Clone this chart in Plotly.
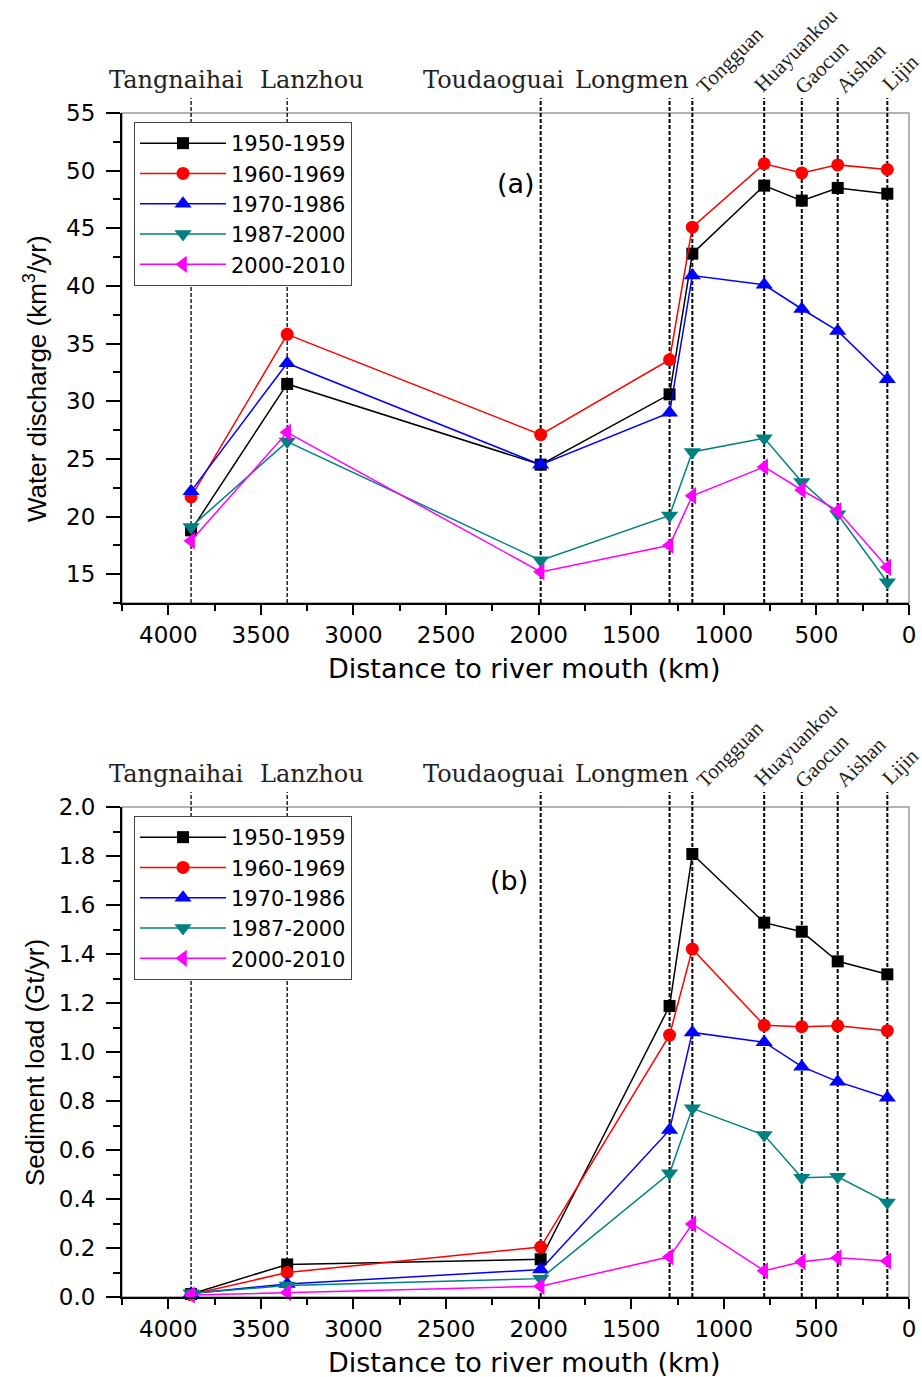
import plotly.graph_objects as go

# ---------------- data ----------------
stations = ["Tangnaihai", "Lanzhou", "Toudaoguai", "Longmen", "Tongguan",
            "Huayuankou", "Gaocun", "Aishan", "Lijin"]
distance_km = [3877, 3358, 1989, 1293, 1170, 782, 579, 385, 117]

periods = ["1950-1959", "1960-1969", "1970-1986", "1987-2000", "2000-2010"]

water_1950_1959 = [18.8, 31.5, 24.5, 30.6, 42.8, 48.7, 47.4, 48.5, 48.0]
water_1960_1969 = [21.7, 35.8, 27.1, 33.6, 45.1, 50.6, 49.8, 50.5, 50.1]
water_1970_1986 = [22.2, 33.3, 24.5, 29.0, 40.9, 40.1, 38.0, 36.1, 31.9]
water_1987_2000 = [19.1, 26.5, 16.2, 20.1, 25.6, 26.8, 23.0, 20.2, 14.3]
water_2000_2010 = [17.9, 27.3, 15.2, 17.5, 21.8, 24.3, 22.3, 20.5, 15.6]

sed_1950_1959 = [0.012, 0.133, 0.154, 1.188, 1.808, 1.528, 1.491, 1.370, 1.317]
sed_1960_1969 = [0.010, 0.100, 0.204, 1.069, 1.420, 1.109, 1.103, 1.107, 1.087]
sed_1970_1986 = [0.014, 0.053, 0.112, 0.682, 1.080, 1.040, 0.940, 0.879, 0.813]
sed_1987_2000 = [0.015, 0.047, 0.075, 0.505, 0.770, 0.661, 0.487, 0.491, 0.386]
sed_2000_2010 = [0.008, 0.018, 0.044, 0.164, 0.298, 0.107, 0.144, 0.160, 0.147]

x_tickvals = [4000, 3500, 3000, 2500, 2000, 1500, 1000, 500, 0]
water_tickvals = [15, 20, 25, 30, 35, 40, 45, 50, 55]
sed_tickvals = [0.0, 0.2, 0.4, 0.6, 0.8, 1.0, 1.2, 1.4, 1.6, 1.8, 2.0]

water_series = [water_1950_1959, water_1960_1969, water_1970_1986,
                water_1987_2000, water_2000_2010]
sed_series = [sed_1950_1959, sed_1960_1969, sed_1970_1986,
              sed_1987_2000, sed_2000_2010]

# ---------------- styles ----------------
colors = ["#000000", "#FF0000", "#0000FF", "#008080", "#FF00FF"]
symbols = ["square", "circle", "triangle-up", "triangle-down", "triangle-left"]
msizes = [12, 13, 15, 15, 15]

W, H = 922, 1377
L, R = 122, 909
PW = R - L
TOP1, BOT1 = 113, 603
TOP2, BOT2 = 807, 1297


def px(xp):
    return (xp - L) / PW


def py(yp):
    return 1 - yp / H


TICKFONT = dict(family="DejaVu Sans", size=23, color="black")
SERIF_H = dict(family="DejaVu Serif", size=24, color="#222222")
SERIF_R = dict(family="Liberation Serif", size=21, color="#222222")
LEGFONT = dict(family="DejaVu Sans", size=21, color="black")

fig = go.Figure()

for i, name in enumerate(periods):
    fig.add_trace(go.Scatter(
        x=distance_km, y=water_series[i], name=name, mode="lines+markers",
        line=dict(color=colors[i], width=1.5),
        marker=dict(symbol=symbols[i], size=msizes[i], color=colors[i]),
        xaxis="x", yaxis="y", legend="legend", cliponaxis=False))
for i, name in enumerate(periods):
    fig.add_trace(go.Scatter(
        x=distance_km, y=sed_series[i], name=name, mode="lines+markers",
        line=dict(color=colors[i], width=1.5),
        marker=dict(symbol=symbols[i], size=msizes[i], color=colors[i]),
        xaxis="x2", yaxis="y2", legend="legend2", cliponaxis=False))

xcommon = dict(range=[4250, 0], tickmode="array", tickvals=x_tickvals,
               ticks="outside", ticklen=10, tickwidth=2, tickcolor="black",
               showline=True, linecolor="black", linewidth=2,
               showgrid=False, zeroline=False, tickfont=TICKFONT,
               minor=dict(dtick=250, tick0=0, ticks="outside", ticklen=6,
                          tickwidth=2, tickcolor="black"))

legcommon = dict(xanchor="left", yanchor="top",
                 bgcolor="white", bordercolor="#444444", borderwidth=1,
                 font=LEGFONT, itemwidth=86, tracegroupgap=0)

fig.update_layout(
    width=W, height=H,
    margin=dict(l=L, r=W - R, t=0, b=0, autoexpand=False),
    paper_bgcolor="white", plot_bgcolor="white",
    showlegend=True,
    xaxis=dict(domain=[0, 1], anchor="y", **xcommon),
    xaxis2=dict(domain=[0, 1], anchor="y2", **xcommon),
    yaxis=dict(domain=[py(BOT1), py(TOP1)], anchor="x", range=[12.5, 55],
               tickmode="array", tickvals=water_tickvals,
               ticks="outside", ticklen=14, tickwidth=2, tickcolor="black",
               showline=True, linecolor="black", linewidth=2,
               showgrid=False, zeroline=False, tickfont=TICKFONT,
               ticklabelstandoff=6,
               minor=dict(dtick=2.5, tick0=0, ticks="outside", ticklen=7,
                          tickwidth=2, tickcolor="black")),
    yaxis2=dict(domain=[py(BOT2), py(TOP2)], anchor="x2", range=[0, 2.0],
                tickmode="array", tickvals=sed_tickvals, tickformat=".1f",
                ticks="outside", ticklen=14, tickwidth=2, tickcolor="black",
                showline=True, linecolor="black", linewidth=2,
                showgrid=False, zeroline=False, tickfont=TICKFONT,
                ticklabelstandoff=6,
                minor=dict(dtick=0.1, tick0=0, ticks="outside", ticklen=7,
                           tickwidth=2, tickcolor="black")),
    legend=dict(x=px(134), y=py(122), **legcommon),
    legend2=dict(x=px(134), y=py(816), **legcommon),
)

shapes = []
annotations = []
for (xa, ya, top, bot) in [("x", "y", TOP1, BOT1), ("x2", "y2", TOP2, BOT2)]:
    # gray frame
    shapes.append(dict(type="rect", xref=xa + " domain", yref=ya + " domain",
                       x0=0, x1=1, y0=0, y1=1, layer="below",
                       line=dict(color="#9a9a9a", width=1.5)))
    ext = 1 + 15 / (bot - top)
    for j, d in enumerate(distance_km):
        shapes.append(dict(type="line", xref=xa, yref=ya + " domain",
                           x0=d, x1=d, y0=0, y1=ext, layer="below",
                           line=dict(color="black", width=1.3 if j < 2 else 2,
                                     dash="4px,2px")))
    # horizontal station labels
    hpos = [176, 312, 493, 632]
    for j in range(4):
        annotations.append(dict(xref="paper", yref="paper", x=px(hpos[j]),
                                y=py(top - 33), text=stations[j],
                                showarrow=False, font=SERIF_H,
                                xanchor="center", yanchor="middle"))
    rpos = [(730, -53), (796, -63), (822, -46), (861, -45), (900, -40)]
    for j in range(5):
        cx, cy = rpos[j]
        annotations.append(dict(xref="paper", yref="paper", x=px(cx),
                                y=py(top + cy), text=stations[4 + j],
                                showarrow=False, font=SERIF_R, textangle=-45,
                                xanchor="center", yanchor="middle"))
    annotations.append(dict(xref="paper", yref="paper", x=px(524),
                            y=py(bot + 65), text="Distance to river mouth (km)",
                            showarrow=False,
                            font=dict(family="DejaVu Sans", size=27, color="black"),
                            xanchor="center", yanchor="middle"))

annotations.append(dict(xref="paper", yref="paper", x=px(35), y=py(379),
                        text="Water discharge (km<sup>3</sup>/yr)", textangle=-90,
                        showarrow=False,
                        font=dict(family="Liberation Sans", size=26, color="black"),
                        xanchor="center", yanchor="middle"))
annotations.append(dict(xref="paper", yref="paper", x=px(35), y=py(1063),
                        text="Sediment load (Gt/yr)", textangle=-90,
                        showarrow=False,
                        font=dict(family="Liberation Sans", size=26, color="black"),
                        xanchor="center", yanchor="middle"))
annotations.append(dict(xref="paper", yref="paper", x=px(516), y=py(183),
                        text="(a)", showarrow=False,
                        font=dict(family="DejaVu Sans", size=27, color="black"),
                        xanchor="center", yanchor="middle"))
annotations.append(dict(xref="paper", yref="paper", x=px(509), y=py(880),
                        text="(b)", showarrow=False,
                        font=dict(family="DejaVu Sans", size=27, color="black"),
                        xanchor="center", yanchor="middle"))

fig.update_layout(shapes=shapes, annotations=annotations)
fig.write_html("out.html")
